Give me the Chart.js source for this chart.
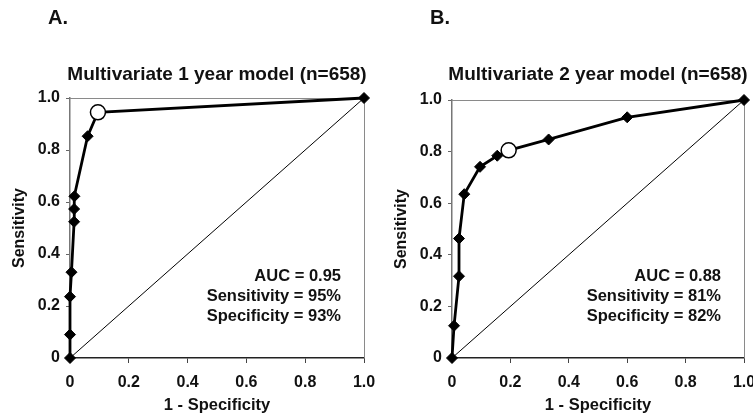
<!DOCTYPE html>
<html>
<head>
<meta charset="utf-8">
<script src="https://cdn.jsdelivr.net/npm/chart.js@4.4.0/dist/chart.umd.min.js"></script>
<style>
    body { margin: 0; background: #fff; width: 753px; height: 418px; overflow: hidden; position: relative; }
    .panel { position: absolute; top: 0; height: 418px; }
    #panelA { left: 0; width: 382px; }
    #panelB { left: 382px; width: 371px; }
</style>
</head>
<body>
<div class="panel" id="panelA"><canvas id="rocA"></canvas></div>
<div class="panel" id="panelB"><canvas id="rocB"></canvas></div>
<script>
// ---------------- Data -----------------
const TICKS = [0, 0.2, 0.4, 0.6, 0.8, 1.0];

// 1 year model: (1 - specificity, sensitivity)
const rocA_x = [0, 0, 0, 0.005, 0.014, 0.014, 0.015, 0.06, 0.095, 1];
const rocA_y = [0, 0.09, 0.236, 0.33, 0.524, 0.573, 0.622, 0.853, 0.945, 1];
const cutA = { x: 0.095, y: 0.945 };
const notesA = ['AUC = 0.95', 'Sensitivity = 95%', 'Specificity = 93%'];

// 2 year model
const rocB_x = [0, 0.007, 0.024, 0.024, 0.042, 0.096, 0.155, 0.194, 0.331, 0.60, 1];
const rocB_y = [0, 0.125, 0.317, 0.463, 0.635, 0.741, 0.784, 0.805, 0.847, 0.933, 1];
const cutB = { x: 0.194, y: 0.805 };
const notesB = ['AUC = 0.88', 'Sensitivity = 81%', 'Specificity = 82%'];

const diag_x = [0, 1];
const diag_y = [0, 1];

const FONT = '"Liberation Sans", Arial, Helvetica, sans-serif';
const INK = '#111';

// ---------------- Plugins -----------------
// gray frame on the top and right of the plot area
const frame = {
    id: 'frame',
    beforeDatasetsDraw(chart) {
        const { ctx, chartArea: a } = chart;
        ctx.save();
        ctx.strokeStyle = '#8a8a8a';
        ctx.lineWidth = 1;
        ctx.beginPath();
        ctx.moveTo(a.left, a.top + 0.5);
        ctx.lineTo(a.right + 0.5, a.top + 0.5);
        ctx.lineTo(a.right + 0.5, a.bottom);
        ctx.stroke();
        ctx.restore();
    }
};

// panel letter, title and the AUC notes
const panelText = {
    id: 'panelText',
    afterDraw(chart, args, opts) {
        const { ctx, chartArea: a } = chart;
        ctx.save();
        ctx.fillStyle = INK;
        ctx.textBaseline = 'middle';

        ctx.font = `bold 20px ${FONT}`;
        ctx.textAlign = 'left';
        ctx.fillText(opts.letter, a.left - 22, 18);

        ctx.font = `bold 19px ${FONT}`;
        ctx.textAlign = 'center';
        ctx.fillText(opts.title, (a.left + a.right) / 2, 75);

        ctx.font = `bold 16.5px ${FONT}`;
        ctx.textAlign = 'right';
        opts.notes.forEach((t, i) => {
            ctx.fillText(t, a.right - 23, a.bottom - 82 + i * 20);
        });
        ctx.restore();
    }
};

function points(xs, ys) {
    return xs.map((x, i) => ({ x, y: ys[i] }));
}

function tickLabel(v) {
    return v === 0 ? '0' : v.toFixed(1);
}

function makeChart(id, xs, ys, cut, letter, title, notes, padTop, padRight) {
    return new Chart(document.getElementById(id), {
        type: 'scatter',
        data: {
            datasets: [
                {
                    // optimal cut-off, drawn on top
                    data: [cut],
                    pointStyle: 'circle',
                    pointRadius: 7.5,
                    backgroundColor: '#fff',
                    borderColor: '#000',
                    borderWidth: 1.5,
                    clip: false
                },
                {
                    data: points(xs, ys),
                    showLine: true,
                    borderColor: '#000',
                    borderWidth: 2.8,
                    pointStyle: 'rectRot',
                    pointRadius: 5.5,
                    pointBackgroundColor: '#000',
                    pointBorderColor: '#000',
                    pointBorderWidth: 1,
                    clip: false
                },
                {
                    data: points(diag_x, diag_y),
                    showLine: true,
                    borderColor: '#000',
                    borderWidth: 1,
                    pointRadius: 0,
                    clip: false
                }
            ]
        },
        options: {
            responsive: true,
            maintainAspectRatio: false,
            animation: false,
            layout: { padding: { left: 0, right: padRight, top: padTop, bottom: 0 } },
            plugins: {
                legend: { display: false },
                tooltip: { enabled: false },
                panelText: { letter, title, notes }
            },
            scales: {
                x: {
                    type: 'linear',
                    min: 0,
                    max: 1,
                    afterBuildTicks: s => { s.ticks = TICKS.map(v => ({ value: v })); },
                    afterFit: s => { s.height = 60; s.paddingLeft = 0; s.paddingRight = 0; },
                    ticks: {
                        callback: tickLabel,
                        color: INK,
                        font: { family: FONT, size: 16, weight: 'bold' },
                        padding: 10,
                        maxRotation: 0
                    },
                    grid: { drawOnChartArea: false, tickLength: 5, color: '#444' },
                    border: { color: '#222', width: 1.5 },
                    title: {
                        display: true,
                        text: '1 - Specificity',
                        color: INK,
                        font: { family: FONT, size: 16.5, weight: 'bold' },
                        padding: { top: 0, bottom: 3 }
                    }
                },
                y: {
                    type: 'linear',
                    min: 0,
                    max: 1,
                    afterBuildTicks: s => { s.ticks = TICKS.map(v => ({ value: v })); },
                    afterFit: s => { s.width = 70; s.paddingTop = 0; s.paddingBottom = 0; },
                    ticks: {
                        callback: tickLabel,
                        color: INK,
                        font: { family: FONT, size: 16, weight: 'bold' },
                        padding: 6
                    },
                    grid: { drawOnChartArea: false, tickLength: 4, color: '#666' },
                    border: { color: '#777', width: 1.5 },
                    title: {
                        display: true,
                        text: 'Sensitivity',
                        color: INK,
                        font: { family: FONT, size: 16, weight: 'bold' },
                        padding: { top: 10, bottom: 0 }
                    }
                }
            }
        },
        plugins: [frame, panelText]
    });
}

makeChart('rocA', rocA_x, rocA_y, cutA, 'A.', 'Multivariate 1 year model (n=658)', notesA, 98, 18);
makeChart('rocB', rocB_x, rocB_y, cutB, 'B.', 'Multivariate 2 year model (n=658)', notesB, 100, 8);
</script>
</body>
</html>
